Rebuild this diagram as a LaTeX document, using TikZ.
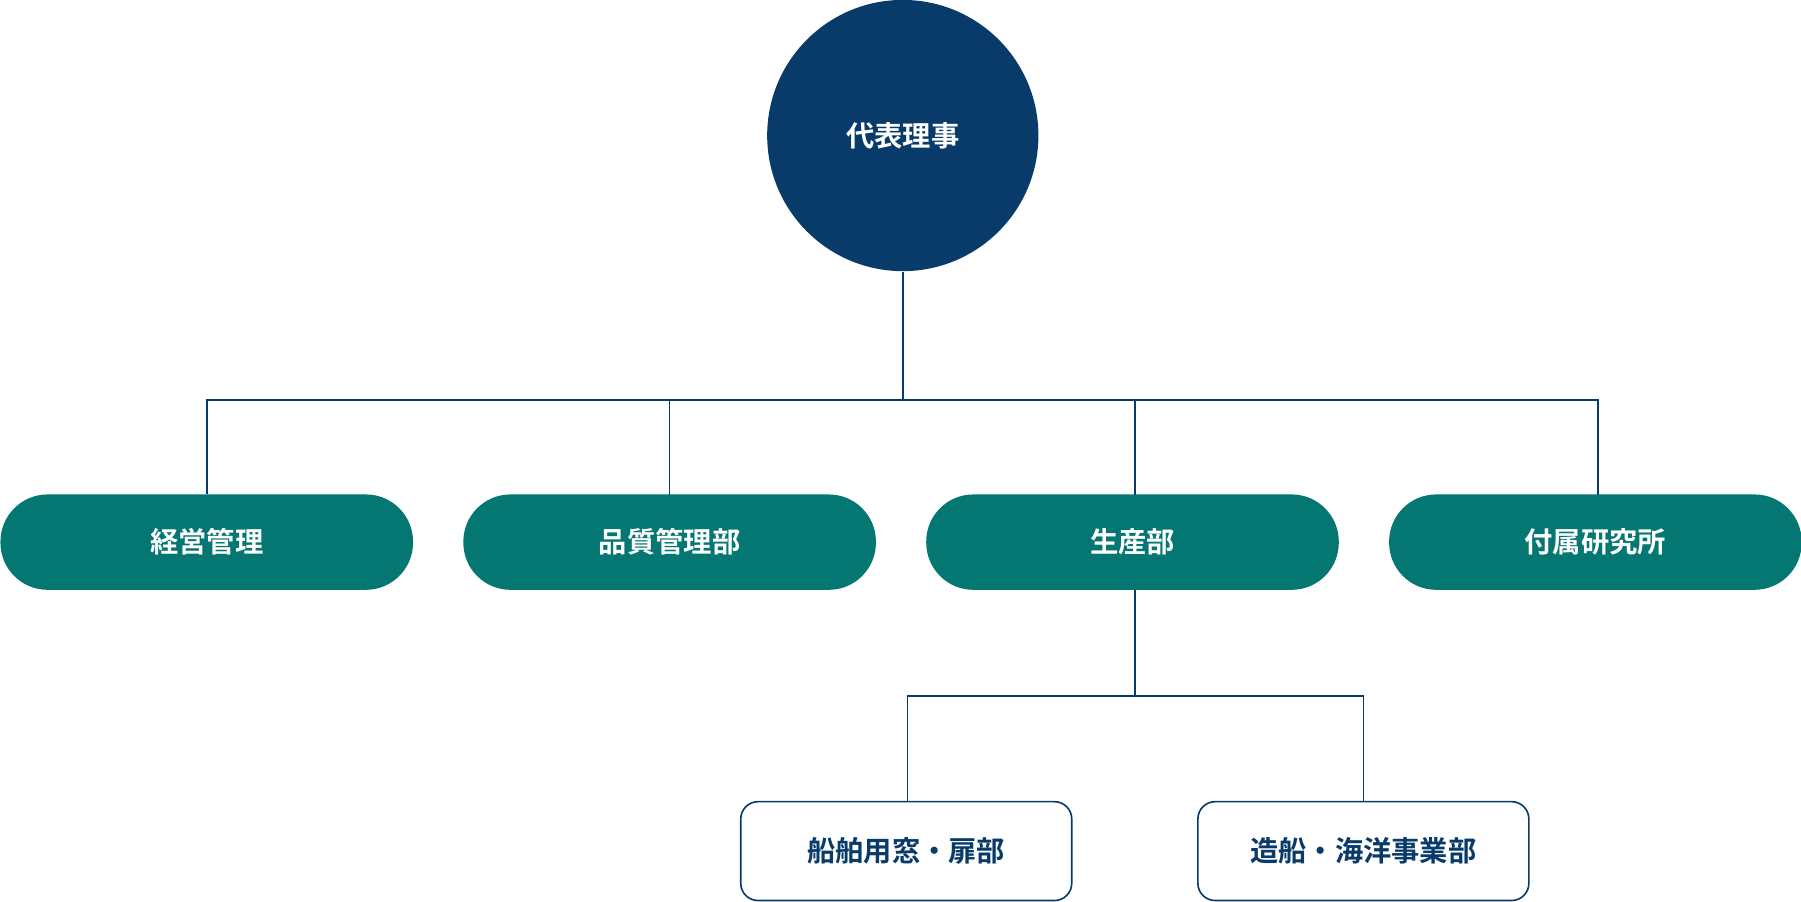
\documentclass[tikz,border=0pt]{standalone}
\usepackage{fontspec}
\newfontfamily\jpfont{Noto Sans CJK JP}[BoldFont={* Bold}]
\definecolor{navy}{HTML}{083B69}
\definecolor{teal}{HTML}{047773}
\begin{document}
\begin{tikzpicture}[x=0.01cm,y=-0.01cm,
    font=\jpfont\bfseries\fontsize{7}{8}\selectfont,
    dept/.style={fill=teal, text=white, rounded corners=0.41cm, minimum width=3.59cm, minimum height=0.83cm},
    sect/.style={fill=white, draw=navy, text=navy, rounded corners=0.15cm, minimum width=2.88cm, minimum height=0.86cm},
    conn/.style={draw=navy, line width=0.4pt}]
    % Bounding box
    \useasboundingbox (0,0) rectangle (1568,785);

    % Top circle
    \node[circle, fill=navy, text=white, minimum size=2.36cm, inner sep=0] (ceo) at (786,118) {代表理事};

    % Departments
    \node[dept] (mgmt) at (180,472) {経営管理};
    \node[dept] (qual) at (583,472) {品質管理部};
    \node[dept] (prod) at (986,472) {生産部};
    \node[dept] (lab) at (1389,472) {付属研究所};

    % Sections
    \node[sect] (win) at (789,741) {船舶用窓・扉部};
    \node[sect] (ship) at (1187,741) {造船・海洋事業部};

    % Connectors
    \coordinate (bus) at (786,348);
    \coordinate (bus2) at (988,606);
    \draw[conn] (ceo.south) -- (bus);
    \draw[conn] (mgmt.north) -- (180,348) -- (1391,348) -- (1391,431);
    \draw[conn] (583,348) -- (583,431);
    \draw[conn] (988,348) -- (988,431);
    \draw[conn] (988,514) -- (bus2);
    \draw[conn] (790,698) -- (790,606) -- (1187,606) -- (1187,698);
\end{tikzpicture}
\end{document}
